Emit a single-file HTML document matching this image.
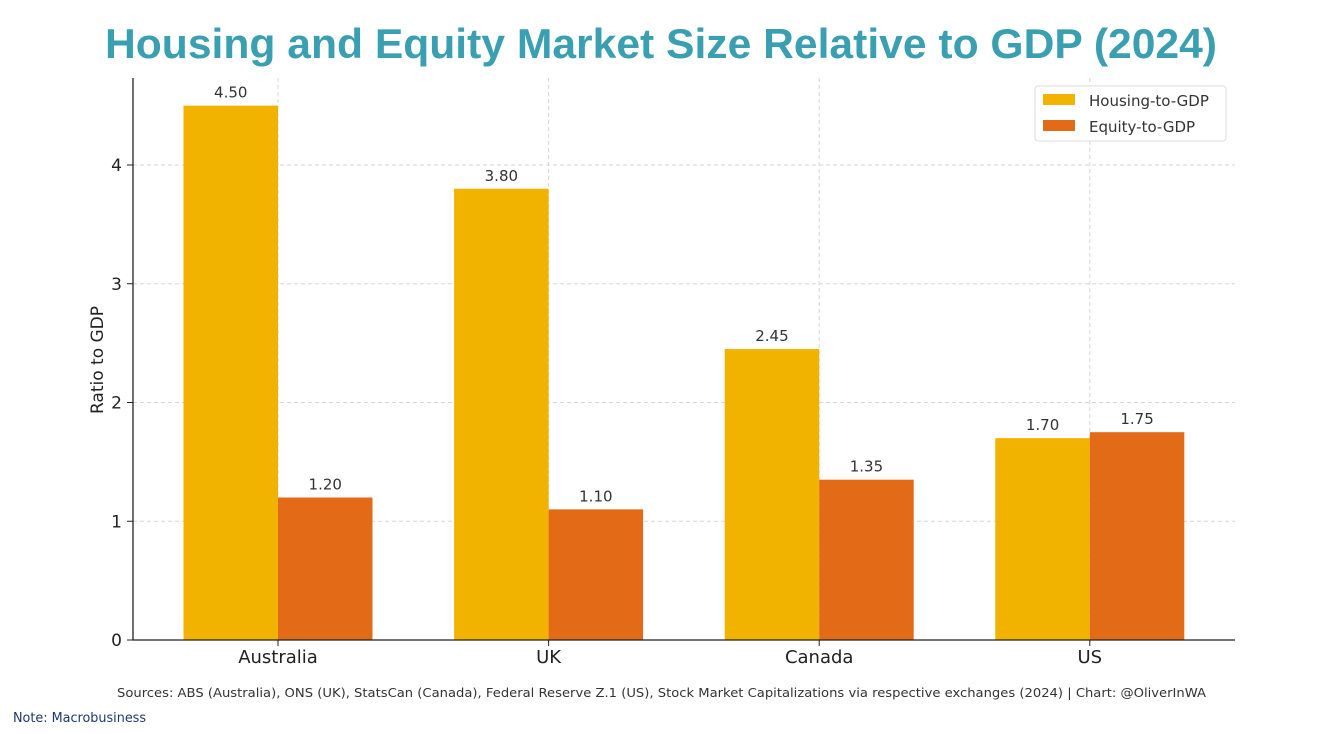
<!DOCTYPE html>
<html><head><meta charset="utf-8"><style>
html,body{margin:0;padding:0;background:#fff;}
svg{display:block;font-family:"DejaVu Sans","Liberation Sans",sans-serif;}
</style></head><body>
<svg id="chart" width="1318" height="734" viewBox="0 0 1318 734">
<text x="661" y="58" text-anchor="middle" font-size="42" font-weight="bold" fill="#3a9fb1" textLength="1112" lengthAdjust="spacingAndGlyphs" font-family="Liberation Sans, sans-serif">Housing and Equity Market Size Relative to GDP (2024)</text>
<g id="grid"></g>
<g id="bars"></g>
<g id="axes"></g>
<text transform="translate(103,360) rotate(-90)" text-anchor="middle" font-size="17" fill="#222">Ratio to GDP</text>
<g>
<rect x="1035" y="86" width="191" height="55" rx="3" fill="#fff" stroke="#ddd"/>
<rect x="1043" y="94" width="32" height="11" fill="#f2b200"/>
<text x="1089" y="106" font-size="15" fill="#333">Housing-to-GDP</text>
<rect x="1043" y="120" width="32" height="11" fill="#e36b17"/>
<text x="1089" y="132" font-size="15" fill="#333">Equity-to-GDP</text>
</g>
<text x="117" y="697" font-size="12" fill="#333" textLength="1089" lengthAdjust="spacingAndGlyphs">Sources: ABS (Australia), ONS (UK), StatsCan (Canada), Federal Reserve Z.1 (US), Stock Market Capitalizations via respective exchanges (2024) | Chart: @OliverInWA</text>
<text x="13" y="722" font-size="13" fill="#1a3a6e" textLength="133" lengthAdjust="spacingAndGlyphs">Note: Macrobusiness</text>
</svg>
<script>
const categories = ["Australia","UK","Canada","US"];
const housing = [4.50,3.80,2.45,1.70];
const equity = [1.20,1.10,1.35,1.75];
const yTicks = [0,1,2,3,4];

const NS="http://www.w3.org/2000/svg";
const y0=640, yPerUnit=118.75;
const yScale=v=>y0-v*yPerUnit;
const c0=278, cStep=270.6;
const xScale=i=>c0+i*cStep;
const barW=94.5;
function mk(tag,attrs,parent){const e=document.createElementNS(NS,tag);for(const k in attrs)e.setAttribute(k,attrs[k]);parent.appendChild(e);return e;}
const grid=document.getElementById('grid'),bars=document.getElementById('bars'),axes=document.getElementById('axes');
yTicks.forEach(t=>{
  const y=yScale(t);
  if(t>0){const g=mk('line',{x1:133,x2:1235,y1:y,y2:y,stroke:'#d6d6d6','stroke-dasharray':'4,3'},grid);
  
  }
  mk('line',{x1:127,x2:133,y1:y,y2:y,stroke:'#222'},axes);
  const tx=mk('text',{x:122,y:y+6,'text-anchor':'end','font-size':17,fill:'#222'},axes);
  tx.textContent=t;
  
  
});
categories.forEach((c,i)=>{
  const cx=xScale(i);
  const g=mk('line',{x1:cx,x2:cx,y1:78,y2:640,stroke:'#d6d6d6','stroke-dasharray':'4,3'},grid);
  
  
  const hb=mk('rect',{x:cx-barW,y:yScale(housing[i]),width:barW,height:housing[i]*yPerUnit,fill:'#f2b200'},bars);
  
  
  const eb=mk('rect',{x:cx,y:yScale(equity[i]),width:barW,height:equity[i]*yPerUnit,fill:'#e36b17'},bars);
  
  
  const hl=mk('text',{x:cx-barW/2,y:yScale(housing[i])-8,'text-anchor':'middle','font-size':15,fill:'#333'},bars);
  hl.textContent=housing[i].toFixed(2);
  
  
  const el=mk('text',{x:cx+barW/2,y:yScale(equity[i])-8,'text-anchor':'middle','font-size':15,fill:'#333'},bars);
  el.textContent=equity[i].toFixed(2);
  
  
  mk('line',{x1:cx,x2:cx,y1:640,y2:646,stroke:'#222'},axes);
  const xl=mk('text',{x:cx,y:663,'text-anchor':'middle','font-size':18,fill:'#222'},axes);
  xl.textContent=c;
  
  
});
const ya=mk('line',{x1:133,x2:133,y1:78,y2:640.5,stroke:'#222','stroke-width':1.3},axes);


const xa=mk('line',{x1:132.5,x2:1235,y1:640,y2:640,stroke:'#222','stroke-width':1.3},axes);


</script>
</body></html>
